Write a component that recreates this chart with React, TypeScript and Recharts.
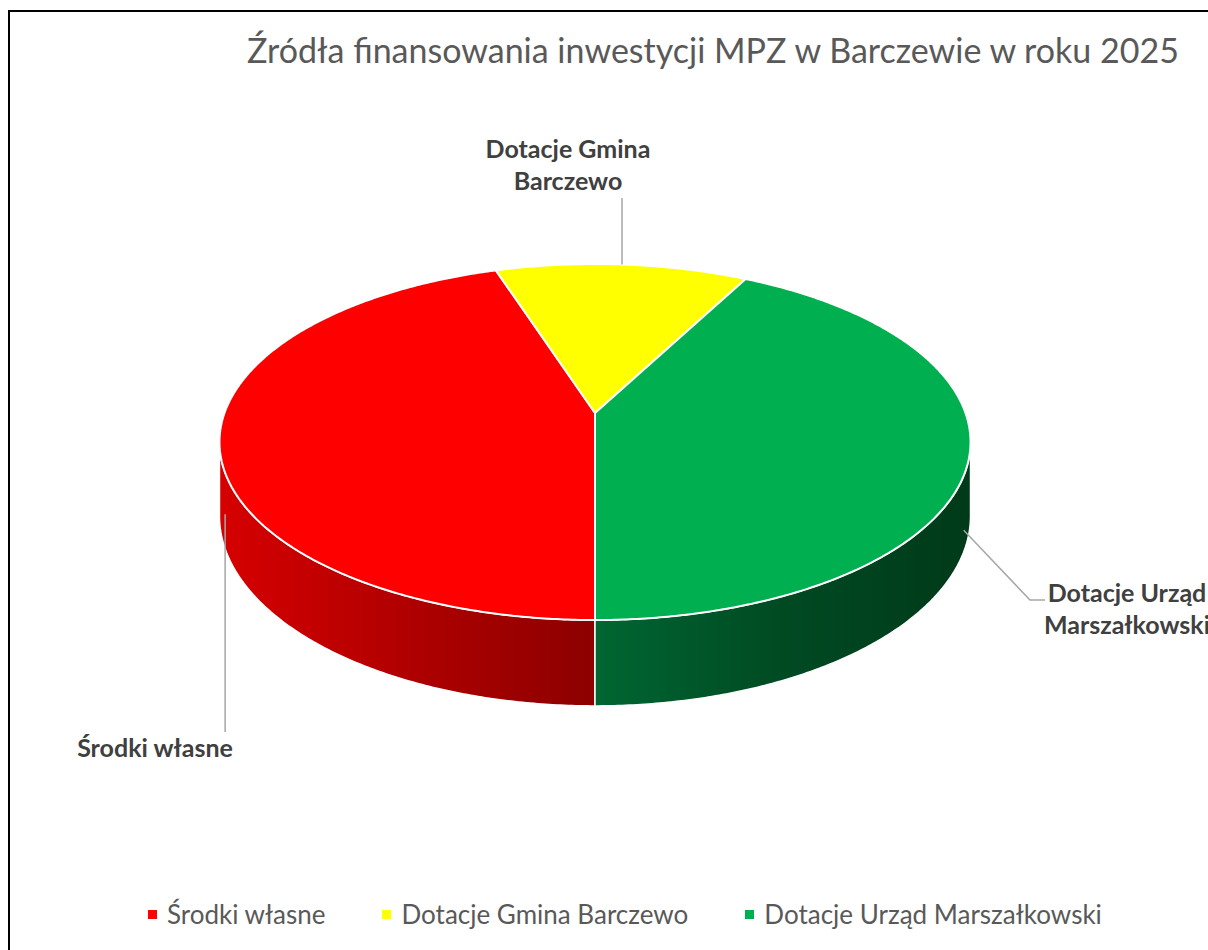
import React from "react";
import { PieChart, Pie, Cell, Legend, Tooltip } from "recharts";

// Źródła finansowania (udział w %)
const SOURCES = ["Środki własne", "Dotacje Gmina Barczewo", "Dotacje Urząd Marszałkowski"];
const SHARES = [45.0, 12.7, 42.3];
const LABEL_LINES = [["Środki własne"], ["Dotacje Gmina", "Barczewo"], ["Dotacje Urząd", "Marszałkowski"]];

const TOP_COLORS = ["#ff0000", "#ffff00", "#00b050"];
const SIDE_COLORS = [
  ["#d60000", "#b00000", "#8c0000"],
  ["#c8c800", "#a8a800", "#8a8a00"],
  ["#006632", "#004a22", "#003a19"],
];

const data = SOURCES.map((name, i) => ({ name, value: SHARES[i] }));

const FONT = "Lato, 'Open Sans', sans-serif";
const W = 1198;
const H = 938;
const CX = 585;
const CY = 401;
const RADIUS = 370.5;
const TILT = 0.4677; // top face squash
const PERSP = 0.163; // far edge smaller than near edge
const DEPTH = 0.194; // thickness relative to radius
const SIL = (Math.asin(PERSP) * 180) / Math.PI;

// where label texts and leader lines end (chart px)
const LABEL_LAYOUT = [
  { end: [null, 720], tx: 145, ty: 745 },
  { end: [null, 186], tx: 558, ty: 146 },
  { end: [1020, 588], elbow: [1035, 588], tx: 1117, ty: 590 },
];

function project(cx: number, cy: number, r: number, deg: number, z: number) {
  const a = (deg * Math.PI) / 180;
  const s = Math.sin(a);
  const d = 1 + PERSP * s;
  return [cx + (r * Math.cos(a)) / d, cy + (-r * TILT * s + z) / d];
}

function arc(cx: number, cy: number, r: number, from: number, to: number, z: number) {
  const n = Math.max(2, Math.ceil(Math.abs(to - from) / 0.5));
  const pts: number[][] = [];
  for (let i = 0; i <= n; i++) pts.push(project(cx, cy, r, from + ((to - from) * i) / n, z));
  return pts;
}

const toPath = (pts: number[][]) => pts.map((p, i) => `${i ? "L" : "M"}${p[0].toFixed(2)},${p[1].toFixed(2)}`).join(" ");

function Slice3D(props: any) {
  const { cx, cy, outerRadius, startAngle, endAngle } = props;
  const name = props.payload?.name ?? props.name;
  const i = Math.max(0, SOURCES.indexOf(name));
  const z = outerRadius * DEPTH;
  const lo = Math.min(startAngle, endAngle);
  const hi = Math.max(startAngle, endAngle);

  const sides: string[] = [];
  for (let k = -2; k <= 2; k++) {
    const a0 = Math.max(lo, -180 + SIL + 360 * k);
    const a1 = Math.min(hi, -SIL + 360 * k);
    if (a1 > a0) {
      const top = arc(cx, cy, outerRadius, a0, a1, 0);
      const bottom = arc(cx, cy, outerRadius, a1, a0, z);
      sides.push(toPath([...top, ...bottom]) + " Z");
    }
  }
  const topFace = toPath([[cx, cy], ...arc(cx, cy, outerRadius, startAngle, endAngle, 0)]) + " Z";
  const gid = `side-grad-${i}`;

  return (
    <g>
      <defs>
        <linearGradient id={gid} x1="0" y1="0" x2="1" y2="0">
          <stop offset="0" stopColor={SIDE_COLORS[i][0]} />
          <stop offset="0.5" stopColor={SIDE_COLORS[i][1]} />
          <stop offset="1" stopColor={SIDE_COLORS[i][2]} />
        </linearGradient>
      </defs>
      {sides.map((d, j) => (
        <path key={j} d={d} fill={`url(#${gid})`} stroke="#ffffff" strokeWidth={1.5} strokeLinejoin="round" />
      ))}
      <path d={topFace} fill={TOP_COLORS[i]} stroke="#ffffff" strokeWidth={2} strokeLinejoin="round" />
    </g>
  );
}

function renderLabel(props: any) {
  const { cx, cy, midAngle, outerRadius, index } = props;
  const lay = LABEL_LAYOUT[index];
  const back = index === 1;
  const [ax, ay] = project(cx, cy, outerRadius * (back ? 1 : 0.985), midAngle, back ? 0 : outerRadius * DEPTH);
  const pts = [[ax, ay], [lay.end[0] ?? ax, lay.end[1] as number]];
  if (lay.elbow) pts.push(lay.elbow);
  return (
    <g key={`lbl-${index}`}>
      <path d={toPath(pts)} fill="none" stroke="#a6a6a6" strokeWidth={1.5} />
      <text textAnchor="middle" fill="#404040" fontFamily={FONT} fontWeight={700} fontSize={25}>
        {LABEL_LINES[index].map((line, j) => (
          <tspan key={j} x={lay.tx} y={lay.ty + j * 32}>
            {line}
          </tspan>
        ))}
      </text>
    </g>
  );
}

function LegendRow(props: any) {
  const payload = props.payload ?? [];
  return (
    <div style={{ display: "flex", alignItems: "center", fontFamily: FONT, fontSize: 26, color: "#595959" }}>
      {SOURCES.map((s, i) => {
        const entry = payload.find((p: any) => p.value === s);
        return (
          <div key={s} style={{ display: "flex", alignItems: "center", marginRight: 57 }}>
            <span style={{ width: 9, height: 9, background: entry?.color ?? TOP_COLORS[i], marginRight: 10 }} />
            <span>{s}</span>
          </div>
        );
      })}
    </div>
  );
}

export default function App() {
  return (
    <>
      <style>{"body{margin:0;overflow:hidden;}"}</style>
      <div
        style={{
          position: "absolute",
          left: 8,
          top: 10,
          width: 1200,
          height: 940,
          boxSizing: "border-box",
          borderLeft: "2px solid #000",
          borderTop: "2px solid #000",
          background: "#fff",
          overflow: "hidden",
        }}
      >
        <svg width={W} height={70} style={{ position: "absolute", left: 0, top: 0 }}>
          <text x={703} y={51} textAnchor="middle" fontFamily={FONT} fontSize={34} fill="#595959">
            Źródła finansowania inwestycji MPZ w Barczewie w roku 2025
          </text>
        </svg>
        <PieChart
          width={W}
          height={H}
          margin={{ top: 0, right: 0, bottom: 0, left: 0 }}
          style={{ position: "absolute", left: 0, top: 0 }}
        >
          <Pie
            data={data}
            dataKey="value"
            nameKey="name"
            cx={CX}
            cy={CY}
            outerRadius={RADIUS}
            startAngle={-90}
            endAngle={-450}
            stroke="none"
            shape={Slice3D}
            activeShape={Slice3D}
            inactiveShape={Slice3D}
            label={renderLabel}
            labelLine={false}
            isAnimationActive={false}
          >
            {data.map((d, i) => (
              <Cell key={d.name} fill={TOP_COLORS[i]} />
            ))}
          </Pie>
          <Tooltip defaultIndex={0} content={() => null} cursor={false} />
          <Legend
            content={LegendRow}
            wrapperStyle={{ position: "absolute", left: 138, top: 886, width: 1050, bottom: "auto" }}
          />
        </PieChart>
      </div>
    </>
  );
}
